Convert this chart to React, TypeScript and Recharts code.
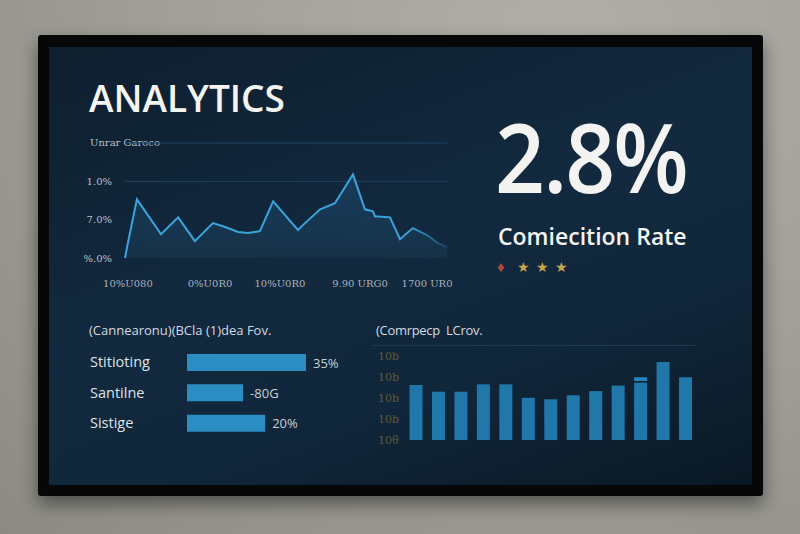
import React from 'react';
import {
  ComposedChart,
  Area,
  Line,
  XAxis,
  YAxis,
  ReferenceLine,
  BarChart,
  Bar,
  LabelList,
} from 'recharts';

// trend line (x is position along the period, y is rate units)
const trendX = [0, 0.9, 3.7, 11.2, 16.5, 21.7, 27.3, 31.1, 35.1, 38.2, 41.9, 46.0, 53.7, 55.9, 60.6, 65.2, 70.8, 74.5, 77.0, 77.6, 82.3, 85.4, 89.4, 93.8, 97.2, 100];
const trendY = [0, 0.39, 1.53, 0.62, 1.06, 0.44, 0.91, 0.81, 0.68, 0.65, 0.7, 1.48, 0.73, 0.91, 1.27, 1.43, 2.18, 1.27, 1.22, 1.09, 1.06, 0.49, 0.78, 0.6, 0.39, 0.29];
const trendYTicks = [0, 1, 2, 3];
const trendYLabels = ['%.0%', '7.0%', '1.0%', ''];
const trendXTicks = [0.9, 26.4, 48.1, 73.0, 93.8];
const trendXLabels = ['10%U080', '0%U0R0', '10%U0R0', '9.90 URG0', '1700 UR0'];

// horizontal bars
const sourceNames = ['Stitioting', 'Santilne', 'Sistige'];
const sourceValues = [35, 16.5, 23];
const sourceLabels = ['35%', '-80G', '20%'];

// vertical bars
const monthValues = [2.62, 2.3, 2.3, 2.65, 2.65, 2.01, 1.94, 2.13, 2.33, 2.59, 2.73, 3.71, 2.99];
const monthGap = [0, 0, 0, 0, 0, 0, 0, 0, 0, 0, 0.08, 0, 0];
const monthCap = [0, 0, 0, 0, 0, 0, 0, 0, 0, 0, 0.18, 0, 0];
const monthTicks = [0, 1, 2, 3, 4];
const monthTickLabels = ['10θ', '10b', '10b', '10b', '10b'];

const trendData = trendX.map((x, i) => ({ x, y: trendY[i] }));
const sourceData = sourceNames.map((name, i) => ({ name, value: sourceValues[i], label: sourceLabels[i] }));
const monthData = monthValues.map((v, i) => ({ m: i, v, gap: monthGap[i], cap: monthCap[i] }));

const sans = '"Open Sans", "Noto Sans", sans-serif';

const abs = (left: number, top: number): React.CSSProperties => ({ position: 'absolute', left, top });

const SourceTick = (props: any) => {
  const { y, payload } = props;
  return (
    <text x={10} y={y} dy={5} fill="#dfe4e8" fontSize={14.5} fontFamily={sans} textAnchor="start">
      {payload.value}
    </text>
  );
};

const MonthTick = (props: any) => {
  const { y, payload } = props;
  return (
    <text x={8} y={y} dy={4} fill="#5e5a3c" fontSize={11} fontFamily="DejaVu Serif, serif" textAnchor="start">
      {monthTickLabels[payload.index] ?? ''}
    </text>
  );
};

const SourceLabel = (props: any) => {
  const { x, y, width, height, index } = props;
  return (
    <text x={x + width + 7} y={y + height / 2} dy={5} fill="#c9d0d6" fontSize={13} fontFamily={sans}>
      {sourceLabels[index]}
    </text>
  );
};

export default function App() {
  return (
    <div
      style={{
        position: 'fixed',
        left: 0,
        top: 0,
        width: 800,
        height: 534,
        overflow: 'hidden',
        background: 'radial-gradient(ellipse at 70% 10%, #b0afa8 0%, #a09f98 50%, #8b8a83 100%)',
      }}
    >
      {/* bezel */}
      <div
        style={{
          ...abs(38, 35),
          width: 725,
          height: 461,
          background: '#070708',
          borderRadius: 3,
          boxShadow: '0 8px 18px rgba(0,0,0,0.45)',
        }}
      />
      {/* screen */}
      <div
        style={{
          ...abs(49, 47),
          width: 703,
          height: 438,
          background: 'linear-gradient(160deg, #0e1f2e 0%, #12293f 45%, #10263a 70%, #0a1824 100%)',
        }}
      />

      <div style={{ ...abs(89, 72), color: '#f4f4f2', fontFamily: sans, fontWeight: 600, fontSize: 37 }}>
        ANALYTICS
      </div>
      <div style={{ ...abs(90, 137), color: '#b8c1ca', fontFamily: 'DejaVu Serif, serif', fontSize: 10 }}>
        Unrar Garoco
      </div>

      <div style={abs(80, 130)}>
        <ComposedChart width={380} height={170} data={trendData} margin={{ top: 13, right: 13, bottom: 12, left: 10 }}>
          <defs>
            <linearGradient id="areaFill" x1="0" y1="0" x2="0" y2="1">
              <stop offset="0%" stopColor="#1f5079" stopOpacity={0.85} />
              <stop offset="100%" stopColor="#17384f" stopOpacity={0.95} />
            </linearGradient>
            <linearGradient id="lineFade" x1="0" y1="0" x2="1" y2="0">
              <stop offset="0%" stopColor="#3ba3dc" />
              <stop offset="88%" stopColor="#3ba3dc" />
              <stop offset="100%" stopColor="#3ba3dc" stopOpacity={0.15} />
            </linearGradient>
          </defs>
          <XAxis
            type="number"
            dataKey="x"
            domain={[0, 100]}
            ticks={trendXTicks}
            tickFormatter={(_v: number, i: number) => trendXLabels[i]}
            axisLine={false}
            tickLine={false}
            tickSize={0}
            tickMargin={22}
            height={30}
            interval={0}
            tick={{ fill: '#a9b3bc', fontSize: 10, fontFamily: 'DejaVu Serif, serif' }}
          />
          <YAxis
            type="number"
            domain={[0, 3]}
            ticks={trendYTicks}
            tickFormatter={(_v: number, i: number) => trendYLabels[i]}
            axisLine={false}
            tickLine={false}
            tickSize={0}
            tickMargin={13}
            width={35}
            interval={0}
            tick={{ fill: '#b8c1ca', fontSize: 10, fontFamily: 'DejaVu Serif, serif' }}
          />
          <ReferenceLine y={3} stroke="#1f4262" strokeWidth={1} segment={[{ x: 11, y: 3 }, { x: 100, y: 3 }]} />
          <ReferenceLine y={2} stroke="#1f4262" strokeWidth={1} />
          <Area type="linear" dataKey="y" stroke="none" fill="url(#areaFill)" isAnimationActive={false} />
          <Line type="linear" dataKey="y" stroke="url(#lineFade)" strokeWidth={2} dot={false} isAnimationActive={false} />
        </ComposedChart>
      </div>

      <div
        style={{
          ...abs(495, 108),
          color: '#f3f3f1',
          fontFamily: sans,
          fontWeight: 600,
          fontSize: 96,
          letterSpacing: -2,
          lineHeight: '96px',
          transform: 'scaleX(0.91)',
          transformOrigin: 'left top',
          whiteSpace: 'nowrap',
        }}
      >
        2.8%
      </div>
      <div style={{ ...abs(498, 220), color: '#f3f3f1', fontFamily: sans, fontWeight: 600, fontSize: 23 }}>
        Comiecition Rate
      </div>
      <div style={{ ...abs(497, 257), fontSize: 14, lineHeight: '20px' }}>
        <span style={{ color: '#b5473a', fontSize: 15, marginRight: 12 }}>♦</span>
        <span style={{ color: '#c9a24a', letterSpacing: 6 }}>★★★</span>
      </div>

      <div style={{ ...abs(89, 321), color: '#d4dae0', fontFamily: sans, fontSize: 13 }}>
        (Cannearonu)(BCla (1)dea Fov.
      </div>
      <div style={abs(80, 347)}>
        <BarChart width={320} height={91} data={sourceData} layout="vertical" margin={{ top: 0, right: 9, bottom: 0, left: 0 }}>
          <XAxis type="number" domain={[0, 60]} hide />
          <YAxis type="category" dataKey="name" width={107} axisLine={false} tickLine={false} tick={<SourceTick />} />
          <Bar dataKey="value" fill="#2b8dc2" barSize={17} isAnimationActive={false}>
            <LabelList dataKey="label" content={<SourceLabel />} />
          </Bar>
        </BarChart>
      </div>

      <div style={{ ...abs(376, 321), color: '#d4dae0', fontFamily: sans, fontSize: 13, letterSpacing: -0.3 }}>
        (Comrpecp&nbsp;&nbsp;LCrov.
      </div>
      <div style={{ ...abs(372, 345), width: 325, height: 1, background: '#1c3a53' }} />
      <div style={abs(370, 345)}>
        <BarChart width={330} height={108} data={monthData} margin={{ top: 11, right: 3, bottom: 13, left: 0 }} barCategoryGap="20%">
          <XAxis dataKey="m" hide />
          <YAxis type="number" domain={[0, 4]} ticks={monthTicks} width={35} axisLine={false} tickLine={false} interval={0} tick={<MonthTick />} />
          <Bar dataKey="v" stackId="a" fill="#1f77aa" isAnimationActive={false} />
          <Bar dataKey="gap" stackId="a" fill="transparent" isAnimationActive={false} />
          <Bar dataKey="cap" stackId="a" fill="#2585b8" isAnimationActive={false} />
        </BarChart>
      </div>
    </div>
  );
}
